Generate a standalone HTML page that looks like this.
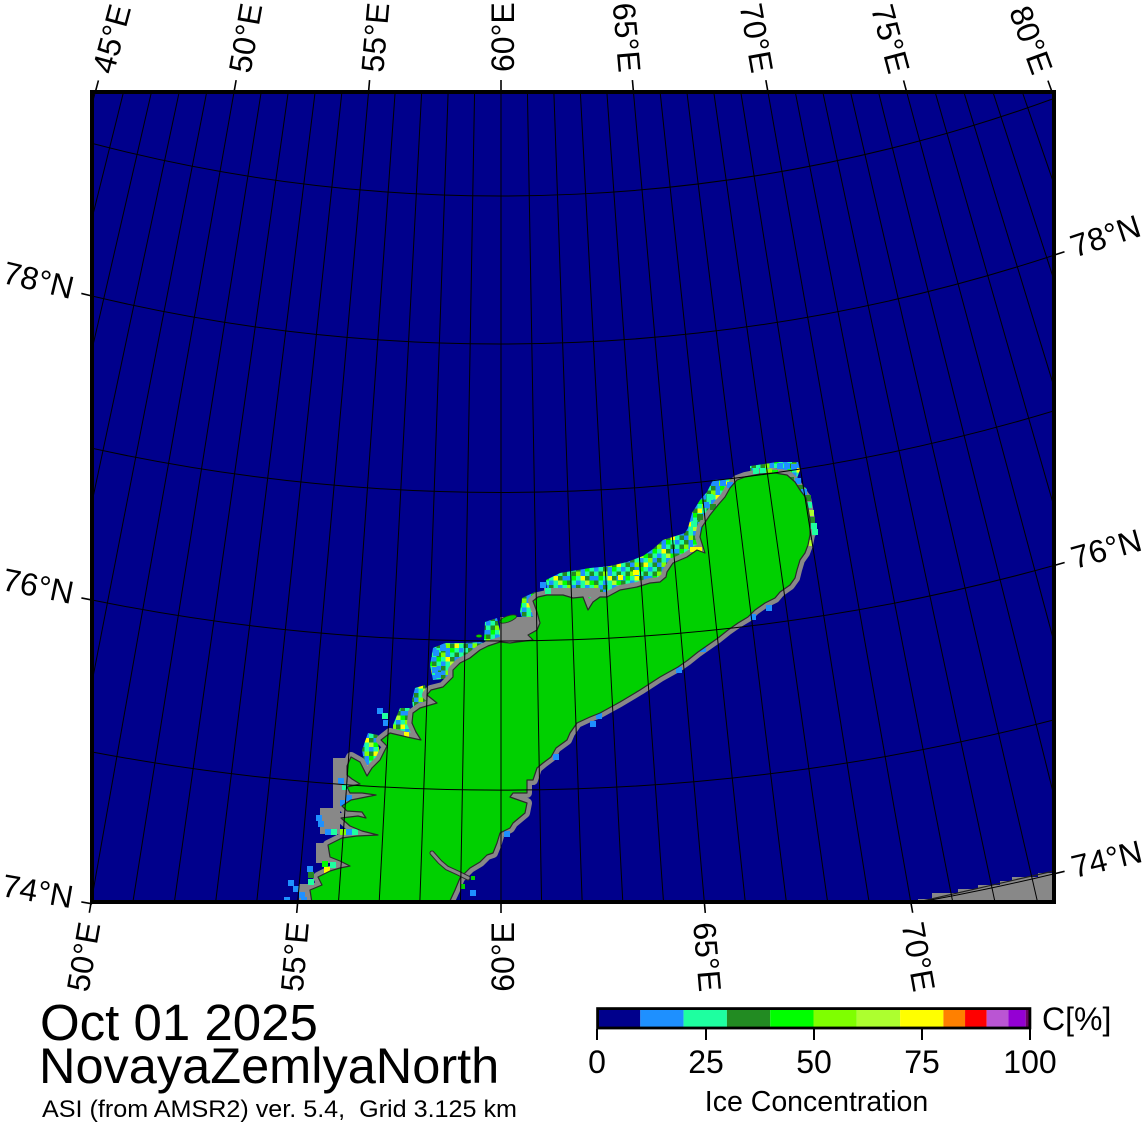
<!DOCTYPE html>
<html>
<head>
<meta charset="utf-8">
<style>
html,body{margin:0;padding:0;background:#fff;width:1147px;height:1123px;overflow:hidden;}
svg{display:block;position:absolute;left:0;top:0;}
text{font-family:"Liberation Sans",Arial,sans-serif;fill:#000;}
.b{fill:#1e90ff}.m{fill:#1effa0}.f{fill:#228b22}.l{fill:#00ff00}.c{fill:#7fff00}.g{fill:#adff2f}.y{fill:#ffff00}
</style>
</head>
<body>
<svg width="1147" height="1123" viewBox="0 0 1147 1123" xmlns="http://www.w3.org/2000/svg">
<defs>
<clipPath id="cp"><rect x="92" y="92" width="962" height="810"/></clipPath>
<pattern id="ice" width="27" height="27" patternUnits="userSpaceOnUse">
<rect width="27" height="27" fill="#1e90ff"/>
<rect class="m" x="4.5" y="0" width="4.5" height="4.5"/><rect class="f" x="9" y="0" width="4.5" height="4.5"/><rect class="l" x="18" y="0" width="4.5" height="4.5"/><rect class="m" x="22.5" y="0" width="4.5" height="4.5"/>
<rect class="m" x="0" y="4.5" width="4.5" height="4.5"/><rect class="f" x="4.5" y="4.5" width="4.5" height="4.5"/><rect class="c" x="9" y="4.5" width="4.5" height="4.5"/><rect class="m" x="18" y="4.5" width="4.5" height="4.5"/><rect class="f" x="22.5" y="4.5" width="4.5" height="4.5"/>
<rect class="l" x="4.5" y="9" width="4.5" height="4.5"/><rect class="m" x="9" y="9" width="4.5" height="4.5"/><rect class="y" x="13.5" y="9" width="4.5" height="4.5"/><rect class="f" x="18" y="9" width="4.5" height="4.5"/>
<rect class="f" x="0" y="13.5" width="4.5" height="4.5"/><rect class="m" x="4.5" y="13.5" width="4.5" height="4.5"/><rect class="m" x="13.5" y="13.5" width="4.5" height="4.5"/><rect class="g" x="18" y="13.5" width="4.5" height="4.5"/><rect class="l" x="22.5" y="13.5" width="4.5" height="4.5"/>
<rect class="c" x="0" y="18" width="4.5" height="4.5"/><rect class="f" x="9" y="18" width="4.5" height="4.5"/><rect class="m" x="13.5" y="18" width="4.5" height="4.5"/><rect class="m" x="22.5" y="18" width="4.5" height="4.5"/>
<rect class="m" x="0" y="22.5" width="4.5" height="4.5"/><rect class="f" x="4.5" y="22.5" width="4.5" height="4.5"/><rect class="c" x="13.5" y="22.5" width="4.5" height="4.5"/><rect class="f" x="18" y="22.5" width="4.5" height="4.5"/><rect class="y" x="22.5" y="22.5" width="4.5" height="4.5"/>
</pattern>
</defs>
<g clip-path="url(#cp)">
<rect x="92" y="92" width="962" height="810" fill="#00008c"/>
<!-- SE mainland -->
<polygon points="918,903 918,899 932,899 932,893 958,893 958,889 978,889 978,885 1000,885 1000,881 1012,881 1012,877 1038,877 1038,873 1054,873 1054,903" fill="#888"/>
<line x1="918" y1="902" x2="1054" y2="871" stroke="#222" stroke-width="1.2"/>
<!-- ice bands -->
<g fill="url(#ice)">
<polygon points="548,600 546,580 560,573 590,568 610,566 627,562 643,556 653,549 663,540 685,533 688,528 697,528 700,540 700,552 690,556 680,560 667,570 660,580 640,585 620,590 600,597 570,602"/>
<polygon points="700,552 686,545 688,528 692,513 700,500 707,492 713,480 730,479 735,481 725,495 715,508 705,520 703,535 708,552"/>
<polygon points="750,466 777,462 798,462 800,470 797,478 790,474 760,473 750,474"/>
<polygon points="800,485 806,488 810,497 814,520 816,535 808,545 805,530 804,510 800,495"/>
<polygon points="522,598 535,592 541,596 538,625 525,627 520,612"/>
<polygon points="485,622 497,618 502,640 492,648 484,640"/>
<polygon points="433,648 445,643 465,643 480,642 490,645 480,652 460,662 452,678 433,680 430,665"/>
<polygon points="415,688 425,685 428,700 425,715 414,715 412,700"/>
<polygon points="400,708 410,708 413,735 393,735 393,725"/>
<polygon points="362,750 368,733 378,735 380,760 365,767"/>
</g>
<!-- island gray underlay -->
<polygon points="312,903 310,890 322,885 318,877 330,871 340,868 350,866 340,861 330,857 328,845 342,838 357,836 378,835 362,831 350,826 341,818 358,816 366,818 362,812 347,811 342,806 351,800 376,795 362,793 350,793 347,787 360,784 352,779 347,775 347,766 351,757 360,762 367,776 372,768 380,760 387,746 381,740 390,733 407,737 421,740 416,732 412,723 413,713 420,708 437,703 427,695 431,690 443,687 453,677 453,670 460,663 470,658 480,650 488,646 500,642 510,643 517,642 533,640 528,635 537,630 540,623 537,612 533,601 538,597 547,595 563,595 573,598 583,597 588,610 593,602 600,597 607,597 620,590 637,587 650,583 660,582 666,577 667,572 673,563 680,560 687,557 697,550 705,553 700,537 702,527 710,515 718,505 725,497 730,488 737,480 745,477 760,474 775,473 787,475 795,482 800,490 806,498 808,508 810,520 810,535 808,545 805,553 800,560 797,570 795,578 790,585 780,592 775,598 765,603 755,610 748,617 738,623 728,630 718,638 708,645 698,652 688,660 678,667 660,677 640,690 620,702 600,713 590,717 577,723 570,733 567,740 556,748 551,757 543,763 537,768 533,780 527,780 527,793 513,793 510,797 527,803 525,813 513,823 510,828 500,833 497,843 493,853 487,855 480,862 470,868 460,878 455,890 449,903" fill="#888" stroke="#888" stroke-width="10" stroke-linejoin="round"/>
<rect x="333" y="758" width="14" height="52" fill="#888"/>
<rect x="320" y="808" width="20" height="26" fill="#888"/>
<rect x="316" y="843" width="18" height="20" fill="#888"/>
<rect x="299" y="884" width="15" height="20" fill="#888"/>
<rect x="544" y="588" width="56" height="9" fill="#888"/>
<rect x="500" y="617" width="36" height="24" fill="#888"/>
<!-- colored pixels -->
<g>
<rect class="b" x="777" y="463" width="6" height="6"/><rect class="b" x="784" y="463" width="6" height="6"/><rect class="b" x="791" y="464" width="6" height="6"/>
<rect class="m" x="753" y="468" width="6" height="6"/><rect class="m" x="760" y="468" width="6" height="6"/><rect class="c" x="766" y="469" width="6" height="6"/><rect class="l" x="772" y="470" width="6" height="6"/>
<rect class="f" x="788" y="477" width="6" height="6"/><rect class="b" x="795" y="478" width="6" height="6"/><rect class="f" x="797" y="485" width="6" height="6"/><rect class="b" x="801" y="489" width="6" height="6"/>
<rect class="f" x="805" y="495" width="6" height="6"/><rect class="m" x="806" y="502" width="6" height="6"/><rect class="g" x="808" y="510" width="6" height="6"/><rect class="f" x="809" y="517" width="6" height="6"/><rect class="m" x="811" y="523" width="6" height="6"/><rect class="m" x="812" y="529" width="6" height="6"/><rect class="g" x="806" y="540" width="6" height="6"/>
<rect class="b" x="713" y="480" width="6" height="6"/><rect class="b" x="720" y="480" width="6" height="6"/><rect class="b" x="727" y="482" width="6" height="6"/>
<rect class="m" x="707" y="494" width="6" height="6"/><rect class="b" x="703" y="502" width="6" height="6"/><rect class="f" x="710" y="504" width="6" height="6"/>
<rect class="f" x="697" y="514" width="6" height="6"/><rect class="m" x="691" y="521" width="6" height="6"/><rect class="b" x="700" y="527" width="6" height="6"/>
<rect class="y" x="690" y="547" width="6" height="5"/><rect class="y" x="696" y="547" width="6" height="5"/>
<rect class="y" x="633" y="570" width="6" height="5"/><rect class="y" x="618" y="575" width="5" height="5"/>
<rect class="b" x="540" y="582" width="6" height="6"/><rect class="m" x="545" y="588" width="6" height="6"/>
<rect class="b" x="440" y="645" width="6" height="6"/><rect class="b" x="433" y="650" width="6" height="6"/><rect class="b" x="432" y="667" width="6" height="6"/><rect class="b" x="435" y="672" width="6" height="6"/>
<rect class="b" x="377" y="708" width="6" height="6"/><rect class="m" x="382" y="713" width="6" height="6"/><rect class="b" x="383" y="720" width="6" height="6"/>
<rect class="y" x="404" y="732" width="5" height="5"/>
<rect class="b" x="338" y="778" width="6" height="6"/><rect class="m" x="342" y="784" width="6" height="6"/><rect class="b" x="346" y="795" width="6" height="6"/><rect class="b" x="340" y="800" width="6" height="6"/>
<rect class="b" x="316" y="815" width="6" height="6"/><rect class="b" x="318" y="821" width="6" height="6"/>
<rect class="b" x="325" y="829" width="6" height="6"/><rect class="m" x="331" y="829" width="6" height="6"/><rect class="c" x="340" y="829" width="6" height="6"/><rect class="b" x="346" y="829" width="6" height="6"/><rect class="m" x="352" y="829" width="6" height="6"/>
<rect class="l" x="322" y="861" width="6" height="6"/><rect class="y" x="324" y="867" width="6" height="6"/><rect class="m" x="330" y="862" width="6" height="6"/>
<rect class="b" x="307" y="866" width="6" height="6"/><rect class="f" x="308" y="872" width="6" height="6"/><rect class="m" x="308" y="879" width="6" height="6"/>
<rect class="b" x="288" y="880" width="6" height="6"/><rect class="b" x="293" y="886" width="6" height="6"/><rect class="b" x="299" y="892" width="6" height="6"/><rect class="b" x="301" y="897" width="6" height="6"/><rect class="b" x="284" y="897" width="6" height="6"/>
<rect class="b" x="590" y="721" width="6" height="6"/><rect class="b" x="553" y="754" width="6" height="6"/><rect class="b" x="504" y="831" width="6" height="6"/><rect class="b" x="700" y="646" width="6" height="6"/><rect class="b" x="750" y="614" width="6" height="6"/><rect class="b" x="766" y="605" width="6" height="6"/><rect class="b" x="596" y="713" width="6" height="6"/><rect class="b" x="470" y="890" width="6" height="6"/><rect class="b" x="676" y="667" width="6" height="6"/>
</g>
<!-- island green -->
<polygon points="312,903 310,890 322,885 318,877 330,871 340,868 350,866 340,861 330,857 328,845 342,838 357,836 378,835 362,831 350,826 341,818 358,816 366,818 362,812 347,811 342,806 351,800 376,795 362,793 350,793 347,787 360,784 352,779 347,775 347,766 351,757 360,762 367,776 372,768 380,760 387,746 381,740 390,733 407,737 421,740 416,732 412,723 413,713 420,708 437,703 427,695 431,690 443,687 453,677 453,670 460,663 470,658 480,650 488,646 500,642 510,643 517,642 533,640 528,635 537,630 540,623 537,612 533,601 538,597 547,595 563,595 573,598 583,597 588,610 593,602 600,597 607,597 620,590 637,587 650,583 660,582 666,577 667,572 673,563 680,560 687,557 697,550 705,553 700,537 702,527 710,515 718,505 725,497 730,488 737,480 745,477 760,474 775,473 787,475 795,482 800,490 806,498 808,508 810,520 810,535 808,545 805,553 800,560 797,570 795,578 790,585 780,592 775,598 765,603 755,610 748,617 738,623 728,630 718,638 708,645 698,652 688,660 678,667 660,677 640,690 620,702 600,713 590,717 577,723 570,733 567,740 556,748 551,757 543,763 537,768 533,780 527,780 527,793 513,793 510,797 527,803 525,813 513,823 510,828 500,833 497,843 493,853 487,855 480,862 470,868 460,878 455,890 449,903" fill="#00d000" stroke="#2a2a2a" stroke-width="1.2" stroke-linejoin="round"/>
<!-- channel -->
<polyline points="432,853 440,862 447,868 458,873 468,878" fill="none" stroke="#2a2a2a" stroke-width="5" stroke-linecap="round"/>
<polyline points="432,853 440,862 447,868 458,873 468,878" fill="none" stroke="#888" stroke-width="3" stroke-linecap="round"/>
<ellipse cx="508" cy="619" rx="9" ry="3" transform="rotate(-20 508 619)" fill="#00d000" stroke="#2a2a2a" stroke-width="0.8"/>
<ellipse cx="479" cy="636" rx="3" ry="1.6" fill="#00d000" stroke="#2a2a2a" stroke-width="0.6"/>
<rect x="471" y="876" width="4" height="4" fill="#00d000"/>
<rect x="461" y="884" width="4" height="5" fill="#00d000"/>
<!-- graticule -->
<g fill="none" stroke="#000" stroke-width="1">
<path d="M92 143.4 A1617.9 1617.9 0 0 0 1054 98.5"/>
<path d="M92 296 A1766 1766 0 0 0 1054 255.2"/>
<path d="M92 448.3 A1914.5 1914.5 0 0 0 1054 410.9"/>
<path d="M92 600 A2063 2063 0 0 0 1054 565.5"/>
<path d="M92 752 A2212.1 2212.1 0 0 0 1054 719.9"/>
<path d="M92 903.8 A2361.5 2361.5 0 0 0 1054 873.8"/>
</g>
<g transform="translate(501,-1422)" stroke="#000" stroke-width="1" fill="none">
<line x1="0" y1="1400" x2="0" y2="2500" transform="rotate(16)"/><line x1="0" y1="1400" x2="0" y2="2500" transform="rotate(15)"/><line x1="0" y1="1400" x2="0" y2="2500" transform="rotate(14)"/><line x1="0" y1="1400" x2="0" y2="2500" transform="rotate(13)"/><line x1="0" y1="1400" x2="0" y2="2500" transform="rotate(12)"/><line x1="0" y1="1400" x2="0" y2="2500" transform="rotate(11)"/><line x1="0" y1="1400" x2="0" y2="2500" transform="rotate(10)"/><line x1="0" y1="1400" x2="0" y2="2500" transform="rotate(9)"/><line x1="0" y1="1400" x2="0" y2="2500" transform="rotate(8)"/><line x1="0" y1="1400" x2="0" y2="2500" transform="rotate(7)"/><line x1="0" y1="1400" x2="0" y2="2500" transform="rotate(6)"/><line x1="0" y1="1400" x2="0" y2="2500" transform="rotate(5)"/><line x1="0" y1="1400" x2="0" y2="2500" transform="rotate(4)"/><line x1="0" y1="1400" x2="0" y2="2500" transform="rotate(3)"/><line x1="0" y1="1400" x2="0" y2="2500" transform="rotate(2)"/><line x1="0" y1="1400" x2="0" y2="2500" transform="rotate(1)"/><line x1="0" y1="1400" x2="0" y2="2500"/>
<line x1="0" y1="1400" x2="0" y2="2500" transform="rotate(-1)"/><line x1="0" y1="1400" x2="0" y2="2500" transform="rotate(-2)"/><line x1="0" y1="1400" x2="0" y2="2500" transform="rotate(-3)"/><line x1="0" y1="1400" x2="0" y2="2500" transform="rotate(-4)"/><line x1="0" y1="1400" x2="0" y2="2500" transform="rotate(-5)"/><line x1="0" y1="1400" x2="0" y2="2500" transform="rotate(-6)"/><line x1="0" y1="1400" x2="0" y2="2500" transform="rotate(-7)"/><line x1="0" y1="1400" x2="0" y2="2500" transform="rotate(-8)"/><line x1="0" y1="1400" x2="0" y2="2500" transform="rotate(-9)"/><line x1="0" y1="1400" x2="0" y2="2500" transform="rotate(-10)"/><line x1="0" y1="1400" x2="0" y2="2500" transform="rotate(-11)"/><line x1="0" y1="1400" x2="0" y2="2500" transform="rotate(-12)"/><line x1="0" y1="1400" x2="0" y2="2500" transform="rotate(-13)"/><line x1="0" y1="1400" x2="0" y2="2500" transform="rotate(-14)"/><line x1="0" y1="1400" x2="0" y2="2500" transform="rotate(-15)"/><line x1="0" y1="1400" x2="0" y2="2500" transform="rotate(-16)"/><line x1="0" y1="1400" x2="0" y2="2500" transform="rotate(-17)"/><line x1="0" y1="1400" x2="0" y2="2500" transform="rotate(-18)"/><line x1="0" y1="1400" x2="0" y2="2500" transform="rotate(-19)"/><line x1="0" y1="1400" x2="0" y2="2500" transform="rotate(-20)"/><line x1="0" y1="1400" x2="0" y2="2500" transform="rotate(-21)"/>
</g>
</g>
<!-- frame -->
<rect x="92" y="92" width="962" height="810" fill="none" stroke="#000" stroke-width="4"/>
<!-- ticks and labels -->
<g transform="translate(501,-1422)" font-size="32">
<g stroke="#000" stroke-width="1.6">
<line x1="0" y1="1555.4" x2="0" y2="1566.4" transform="rotate(15)"/><line x1="0" y1="1525.3" x2="0" y2="1536.3" transform="rotate(10)"/><line x1="0" y1="1507.8" x2="0" y2="1518.8" transform="rotate(5)"/><line x1="0" y1="1502" x2="0" y2="1513"/><line x1="0" y1="1507.8" x2="0" y2="1518.8" transform="rotate(-5)"/><line x1="0" y1="1525.3" x2="0" y2="1536.3" transform="rotate(-10)"/><line x1="0" y1="1555.4" x2="0" y2="1566.4" transform="rotate(-15)"/><line x1="0" y1="1599.1" x2="0" y2="1610.1" transform="rotate(-20)"/>
<line x1="0" y1="2359.8" x2="0" y2="2370.8" transform="rotate(10)"/><line x1="0" y1="2332.9" x2="0" y2="2343.9" transform="rotate(5)"/><line x1="0" y1="2324" x2="0" y2="2335"/><line x1="0" y1="2332.9" x2="0" y2="2343.9" transform="rotate(-5)"/><line x1="0" y1="2359.8" x2="0" y2="2370.8" transform="rotate(-10)"/>
</g>
<text transform="rotate(15) translate(0,1546.7) rotate(-90)" y="13" text-anchor="start">45°E</text>
<text transform="rotate(10) translate(0,1517) rotate(-90)" y="13" text-anchor="start">50°E</text>
<text transform="rotate(5) translate(0,1499.7) rotate(-90)" y="13" text-anchor="start">55°E</text>
<text transform="translate(0,1494) rotate(-90)" y="13" text-anchor="start">60°E</text>
<text transform="rotate(-5) translate(0,1499.7) rotate(90)" y="13" text-anchor="end">65°E</text>
<text transform="rotate(-10) translate(0,1517) rotate(90)" y="13" text-anchor="end">70°E</text>
<text transform="rotate(-15) translate(0,1546.7) rotate(90)" y="13" text-anchor="end">75°E</text>
<text transform="rotate(-20) translate(0,1589.9) rotate(90)" y="13" text-anchor="end">80°E</text>
<text transform="rotate(10) translate(0,2380.2) rotate(-90)" y="13" text-anchor="end">50°E</text>
<text transform="rotate(5) translate(0,2352.9) rotate(-90)" y="13" text-anchor="end">55°E</text>
<text transform="translate(0,2344) rotate(-90)" y="13" text-anchor="end">60°E</text>
<text transform="rotate(-5) translate(0,2352.9) rotate(90)" y="13" text-anchor="start">65°E</text>
<text transform="rotate(-10) translate(0,2380.2) rotate(90)" y="13" text-anchor="start">70°E</text>
<g transform="rotate(13.39) translate(0,1766)"><line x1="0" y1="0" x2="-11" y2="0" stroke="#000" stroke-width="1.6"/><text x="-20" y="8" text-anchor="end">78°N</text></g>
<g transform="rotate(11.43) translate(0,2063)"><line x1="0" y1="0" x2="-11" y2="0" stroke="#000" stroke-width="1.6"/><text x="-20" y="8" text-anchor="end">76°N</text></g>
<g transform="rotate(9.97) translate(0,2361.5)"><line x1="0" y1="0" x2="-11" y2="0" stroke="#000" stroke-width="1.6"/><text x="-20" y="8" text-anchor="end">74°N</text></g>
<g transform="rotate(-18.25) translate(0,1766)"><line x1="0" y1="0" x2="11" y2="0" stroke="#000" stroke-width="1.6"/><text x="19" y="9" text-anchor="start">78°N</text></g>
<g transform="rotate(-15.55) translate(0,2063)"><line x1="0" y1="0" x2="11" y2="0" stroke="#000" stroke-width="1.6"/><text x="19" y="9" text-anchor="start">76°N</text></g>
<g transform="rotate(-13.54) translate(0,2361.5)"><line x1="0" y1="0" x2="11" y2="0" stroke="#000" stroke-width="1.6"/><text x="19" y="9" text-anchor="start">74°N</text></g>
</g>
<!-- colorbar -->
<g>
<rect x="597" y="1009" width="43.3" height="19" fill="#00008c"/>
<rect x="640.3" y="1009" width="43.3" height="19" fill="#1e90ff"/>
<rect x="683.6" y="1009" width="43.3" height="19" fill="#1effa0"/>
<rect x="726.9" y="1009" width="43.3" height="19" fill="#228b22"/>
<rect x="770.2" y="1009" width="43.3" height="19" fill="#00ff00"/>
<rect x="813.5" y="1009" width="43.3" height="19" fill="#7fff00"/>
<rect x="856.8" y="1009" width="43.3" height="19" fill="#adff2f"/>
<rect x="900.1" y="1009" width="43.3" height="19" fill="#ffff00"/>
<rect x="943.4" y="1009" width="21.65" height="19" fill="#ff8000"/>
<rect x="965.05" y="1009" width="21.65" height="19" fill="#ff0000"/>
<rect x="986.7" y="1009" width="21.65" height="19" fill="#ba55d3"/>
<rect x="1008.35" y="1009" width="17.32" height="19" fill="#9400d3"/>
<rect x="1025.67" y="1009" width="4.33" height="19" fill="#6a0060"/>
<rect x="597.6" y="1008.6" width="432.3" height="19.4" fill="none" stroke="#000" stroke-width="2.8"/>
<g stroke="#000" stroke-width="2"><line x1="597" y1="1029" x2="597" y2="1040"/><line x1="706" y1="1029" x2="706" y2="1040"/><line x1="814" y1="1029" x2="814" y2="1040"/><line x1="922" y1="1029" x2="922" y2="1040"/><line x1="1030" y1="1029" x2="1030" y2="1040"/></g>
<g font-size="32" text-anchor="middle"><text x="597" y="1073">0</text><text x="706" y="1073">25</text><text x="814" y="1073">50</text><text x="922" y="1073">75</text><text x="1030" y="1073">100</text></g>
<text x="1042" y="1030" font-size="32">C[%]</text>
<text x="816.5" y="1111" font-size="28.5" text-anchor="middle">Ice Concentration</text>
</g>
<!-- titles -->
<text x="40" y="1040" font-size="51">Oct 01 2025</text>
<text x="39" y="1083" font-size="50.5">NovayaZemlyaNorth</text>
<text x="42" y="1117" font-size="24" style="white-space:pre" textLength="475" lengthAdjust="spacingAndGlyphs">ASI (from AMSR2) ver. 5.4,  Grid 3.125 km</text>
</svg>
</body>
</html>
